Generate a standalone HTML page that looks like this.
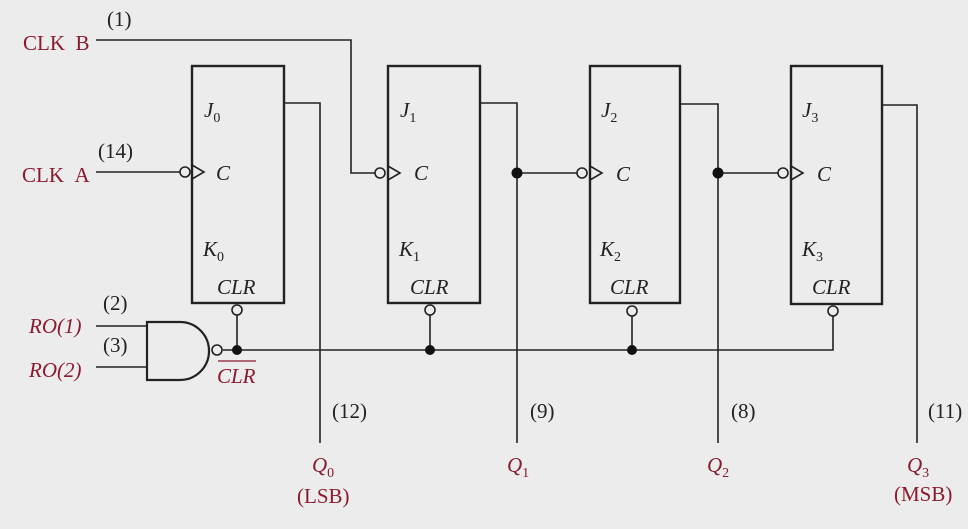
<!DOCTYPE html>
<html><head><meta charset="utf-8"><style>
html,body{margin:0;padding:0;background:#ececec;}
svg{display:block}
text{font-family:"Liberation Serif",serif;font-size:21px;}
.r{fill:#8b1a2e}
.i{font-style:italic}
.s{font-style:normal}
</style></head><body>
<svg width="968" height="529" viewBox="0 0 968 529">
<rect width="968" height="529" fill="#ececec"/>
<g fill="none" stroke="#222" stroke-width="1.6">
<rect x="192" y="66" width="92" height="237" stroke-width="2.4"/>
<rect x="388" y="66" width="92" height="237" stroke-width="2.4"/>
<rect x="590" y="66" width="90" height="237" stroke-width="2.4"/>
<rect x="791" y="66" width="91" height="238" stroke-width="2.4"/>
<polyline points="284,103 320,103 320,443"/>
<polyline points="480,103 517,103 517,443"/>
<polyline points="680,104 718,104 718,443"/>
<polyline points="882,105 917,105 917,443"/>
<polyline points="96,40 351,40 351,173 375,173"/>
<line x1="96" y1="172" x2="180" y2="172"/>
<line x1="517" y1="173" x2="577" y2="173"/>
<line x1="718" y1="173" x2="778" y2="173"/>
<circle cx="185" cy="172" r="5"/><circle cx="380" cy="173" r="5"/>
<circle cx="582" cy="173" r="5"/><circle cx="783" cy="173" r="5"/>
<polyline points="192,165 204,172 192,179"/>
<polyline points="388,166 400,173 388,180"/>
<polyline points="590,166 602,173 590,180"/>
<polyline points="791,166 803,173 791,180"/>
<circle cx="237" cy="310" r="5"/><circle cx="430" cy="310" r="5"/>
<circle cx="632" cy="311" r="5"/><circle cx="833" cy="311" r="5"/>
<line x1="237" y1="315" x2="237" y2="350"/>
<line x1="430" y1="315" x2="430" y2="350"/>
<line x1="632" y1="316" x2="632" y2="350"/>
<polyline points="223,350 833,350 833,316"/>
<path d="M147,322 L180,322 A29,29 0 0 1 180,380 L147,380 Z" stroke-width="2.2"/>
<circle cx="217" cy="350" r="5"/>
<line x1="96" y1="326" x2="147" y2="326"/>
<line x1="96" y1="367" x2="147" y2="367"/>
<line x1="218" y1="361" x2="256" y2="361" stroke="#8b1a2e" stroke-width="1.2"/>
</g>
<g fill="#111">
<circle cx="237" cy="350" r="5"/><circle cx="430" cy="350" r="5"/>
<circle cx="632" cy="350" r="5"/><circle cx="517" cy="173" r="5.5"/><circle cx="718" cy="173" r="5.5"/>
</g>
<g fill="#222">
<text x="107" y="26" font-size="19">(1)</text>
<text x="98" y="158" font-size="19">(14)</text>
<text x="103" y="310" font-size="19">(2)</text>
<text x="103" y="352" font-size="19">(3)</text>
<text x="332" y="418" font-size="19">(12)</text>
<text x="530" y="418" font-size="19">(9)</text>
<text x="731" y="418" font-size="19">(8)</text>
<text x="928" y="418" font-size="19">(11)</text>
<g class="i">
<text x="204" y="117">J<tspan class="s" font-size="14" dy="5">0</tspan></text>
<text x="400" y="117">J<tspan class="s" font-size="14" dy="5">1</tspan></text>
<text x="601" y="117">J<tspan class="s" font-size="14" dy="5">2</tspan></text>
<text x="802" y="117">J<tspan class="s" font-size="14" dy="5">3</tspan></text>
<text x="216" y="180">C</text><text x="414" y="180">C</text>
<text x="616" y="181">C</text><text x="817" y="181">C</text>
<text x="203" y="256">K<tspan class="s" font-size="14" dy="5">0</tspan></text>
<text x="399" y="256">K<tspan class="s" font-size="14" dy="5">1</tspan></text>
<text x="600" y="256">K<tspan class="s" font-size="14" dy="5">2</tspan></text>
<text x="802" y="256">K<tspan class="s" font-size="14" dy="5">3</tspan></text>
<text x="217" y="294">CLR</text><text x="410" y="294">CLR</text>
<text x="610" y="294">CLR</text><text x="812" y="294">CLR</text>
</g></g>
<g class="r">
<text x="23" y="50">CLK&#160;&#160;B</text>
<text x="22" y="182">CLK&#160;&#160;A</text>
<text x="29" y="333" class="i">RO(1)</text>
<text x="29" y="377" class="i">RO(2)</text>
<text x="217" y="383" class="i">CLR</text>
<text x="312" y="472" class="i">Q<tspan class="s" font-size="14" dy="5">0</tspan></text>
<text x="297" y="503">(LSB)</text>
<text x="507" y="472" class="i">Q<tspan class="s" font-size="14" dy="5">1</tspan></text>
<text x="707" y="472" class="i">Q<tspan class="s" font-size="14" dy="5">2</tspan></text>
<text x="907" y="472" class="i">Q<tspan class="s" font-size="14" dy="5">3</tspan></text>
<text x="894" y="501">(MSB)</text>
</g>
</svg>
</body></html>
